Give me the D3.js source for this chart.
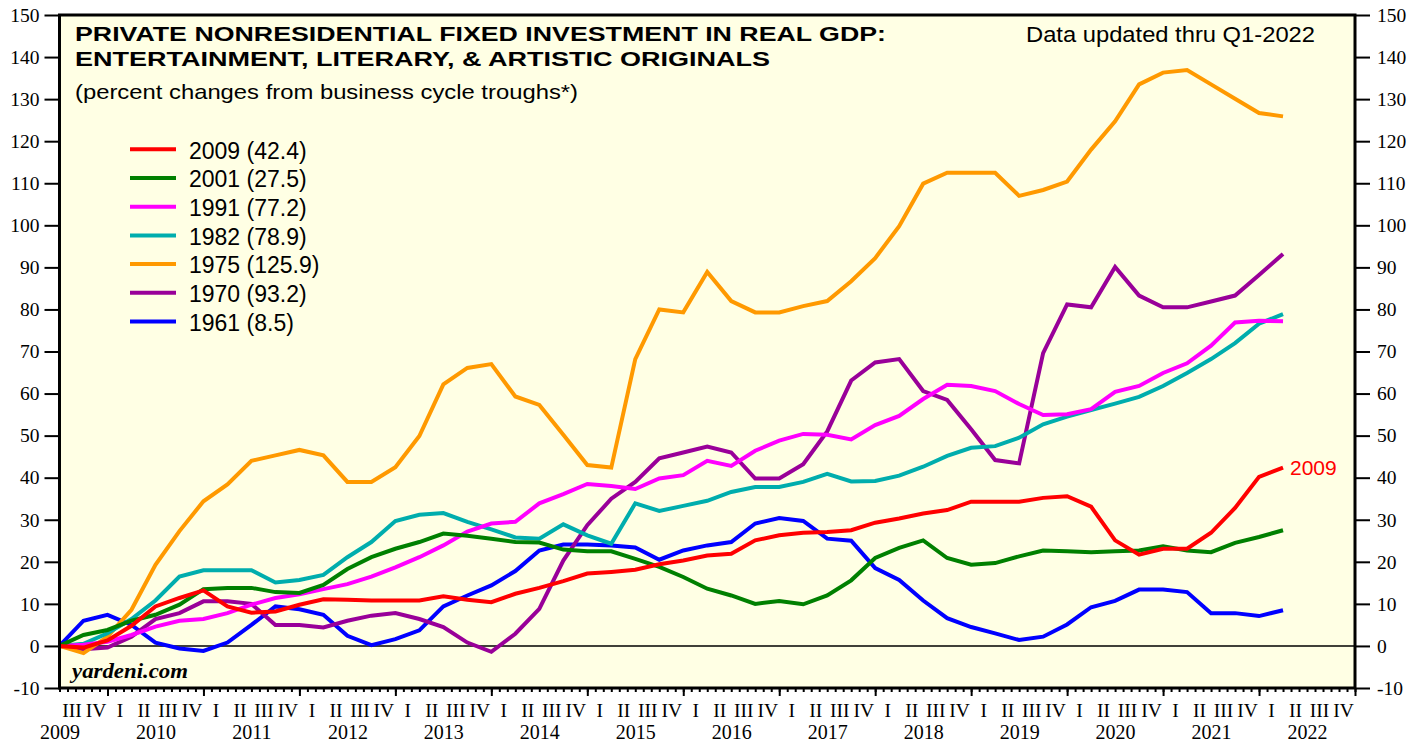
<!DOCTYPE html>
<html><head><meta charset="utf-8">
<script src="https://cdn.jsdelivr.net/npm/d3@7"></script>
<style>body{margin:0;background:#fff}svg{display:block}</style>
</head><body>
<svg id="c" width="1426" height="744"></svg>
<script>
// ---------- DATA ----------
const cycles = ["2009","2001","1991","1982","1975","1970","1961"];
// quarters since trough: 0..51 (2009Q2 .. 2022Q1 on the 2009 calendar)
const s2009 = [0,-0.4,1.3,4.8,9.4,11.4,13.2,9.4,7.9,8.2,9.8,11.1,11.0,10.8,10.8,10.8,11.8,11.0,10.4,12.4,13.8,15.4,17.2,17.6,18.1,19.4,20.3,21.5,21.9,25.1,26.3,26.9,27.1,27.5,29.3,30.3,31.5,32.3,34.3,34.3,34.3,35.2,35.6,33.1,25.1,21.7,23.1,23.1,26.9,32.8,40.2,42.4];
const s2001 = [0,2.6,3.8,6.0,7.4,9.8,13.5,13.8,13.8,12.8,12.6,14.5,18.3,21.1,23.1,24.7,26.7,26.2,25.5,24.7,24.6,22.9,22.5,22.5,20.7,18.8,16.4,13.6,12.0,10.0,10.7,9.9,12.0,15.6,20.9,23.3,25.1,20.9,19.3,19.7,21.3,22.7,22.5,22.3,22.5,22.7,23.7,22.7,22.3,24.5,25.9,27.5];
const s1991 = [0,0.3,1.0,2.6,4.6,6.0,6.4,7.8,9.8,11.4,12.3,13.5,14.7,16.5,18.7,21.1,23.9,27.2,29.1,29.5,33.9,36.1,38.5,38.0,37.3,39.8,40.6,44.0,42.8,46.4,48.8,50.4,50.2,49.1,52.5,54.7,58.7,62.1,61.8,60.6,57.5,54.9,55.1,56.3,60.4,61.8,64.9,67.2,71.4,76.9,77.3,77.2];
const s1982 = [0,0.5,3.0,6.4,10.8,16.5,18.0,18.0,18.0,15.1,15.7,16.9,21.1,24.7,29.7,31.2,31.6,29.5,27.7,25.8,25.5,28.9,26.3,24.3,33.9,32.1,33.3,34.5,36.6,37.8,37.8,39.0,40.9,39.1,39.2,40.5,42.6,45.2,47.1,47.5,49.5,52.7,54.5,56.1,57.6,59.2,61.8,64.9,68.2,72.0,76.6,78.9];
const s1975 = [0,-1.7,2.2,8.6,19.3,27.3,34.4,38.4,44.0,45.3,46.6,45.3,39.0,39.0,42.5,49.9,62.2,66.1,67.0,59.3,57.3,50.2,43.0,42.4,68.2,80.0,79.3,88.9,82.0,79.3,79.3,80.8,82.0,86.7,92.2,99.8,109.9,112.5,112.5,112.5,107.0,108.4,110.4,118.0,124.7,133.5,136.3,136.9,133.5,130.1,126.7,125.9];
const s1970 = [0,-0.8,-0.4,2.2,6.4,7.8,10.6,10.6,10.0,5.0,5.0,4.4,6.0,7.2,7.8,6.4,4.5,0.8,-1.4,2.9,8.8,20.3,28.7,35.0,39.0,44.6,46.0,47.4,46.0,39.8,39.8,43.2,51.0,63.1,67.4,68.2,60.6,58.5,51.5,44.2,43.4,69.6,81.2,80.5,90.1,83.3,80.5,80.5,81.9,83.3,88.2,93.2];
const s1961 = [0,6.0,7.4,5.0,0.8,-0.6,-1.2,0.8,5.0,9.4,8.7,7.4,2.4,0.2,1.6,3.7,9.4,12.0,14.4,17.8,22.7,24.1,24.1,23.9,23.4,20.5,22.7,23.9,24.7,29.1,30.4,29.7,25.5,25.0,18.5,15.7,10.8,6.6,4.5,3.0,1.4,2.2,5.1,9.2,10.7,13.4,13.4,12.8,7.8,7.8,7.1,8.5];
const seriesValues = [s2009,s2001,s1991,s1982,s1975,s1970,s1961];
const yTicks = [-10,0,10,20,30,40,50,60,70,80,90,100,110,120,130,140,150];
const quarterLabels = ["I","II","III","IV"];
const yearLabels = [2009,2010,2011,2012,2013,2014,2015,2016,2017,2018,2019,2020,2021,2022];
const firstQuarterEnd = 2009.5;   // end of 2009 Q2 (trough of latest cycle)
const axisStart = 2009.5, axisEnd = 2023;

// ---------- STYLES ----------
const colors = ["#ff0000","#008000","#ff00ff","#00adad","#ff9900","#990099","#0000ff"];
const SANS = "'Liberation Sans', Arial, Helvetica, sans-serif";
const SERIF = "'Liberation Serif', 'Times New Roman', serif";

const svg = d3.select("#c");
const L = 59.5, R = 1355, T = 15, B = 688;
const x = d3.scaleLinear().domain([axisStart, axisEnd]).range([L, R]);
const y = d3.scaleLinear().domain([-10, 150]).range([B, T]);

svg.append("rect").attr("x", L).attr("y", T).attr("width", R - L).attr("height", B - T).attr("fill", "#ffffe4");

// zero line
svg.append("line").attr("x1", L).attr("x2", R).attr("y1", y(0)).attr("y2", y(0))
  .attr("stroke", "#000").attr("stroke-width", 1.5);

// series lines (draw 1961 first, 2009 last)
const line = d3.line().x((d, i) => x(firstQuarterEnd + i * 0.25)).y(d => y(d));
for (let k = seriesValues.length - 1; k >= 0; k--) {
  svg.append("path").datum(seriesValues[k]).attr("d", line)
    .attr("fill", "none").attr("stroke", colors[k]).attr("stroke-width", 4)
    .attr("stroke-linejoin", "miter");
}

// frame
svg.append("rect").attr("x", L).attr("y", T).attr("width", R - L).attr("height", B - T)
  .attr("fill", "none").attr("stroke", "#000").attr("stroke-width", 3);

function styleAxis(g, fs) {
  g.select(".domain").remove();
  g.selectAll(".tick line").attr("stroke", "#000").attr("stroke-width", 2);
  g.selectAll("text").attr("font-family", SERIF).attr("font-size", fs).attr("fill", "#000");
}

// left / right axes (plain hyphen for negatives)
const fmtY = d => String(d);
const gl = svg.append("g").attr("transform", `translate(${L},0)`)
  .call(d3.axisLeft(y).tickValues(yTicks).tickSize(15).tickPadding(5).tickFormat(fmtY));
styleAxis(gl, "19.5px");
const gr = svg.append("g").attr("transform", `translate(${R},0)`)
  .call(d3.axisRight(y).tickValues(yTicks).tickSize(15).tickPadding(7).tickFormat(fmtY));
styleAxis(gr, "19.5px");

// bottom ticks: monthly minor, yearly major
const months = d3.range(Math.round((axisEnd - axisStart) * 12) + 1).map(k => axisStart + k / 12);
const gm = svg.append("g").attr("transform", `translate(0,${B})`)
  .call(d3.axisBottom(x).tickValues(months).tickSize(4).tickFormat(""));
styleAxis(gm, "0px");
const yearBounds = yearLabels.slice(1).concat([axisEnd]);
const gy = svg.append("g").attr("transform", `translate(0,${B})`)
  .call(d3.axisBottom(x).tickValues(yearBounds).tickSize(8).tickFormat(""));
styleAxis(gy, "0px");

// quarter labels
const qMids = d3.range(Math.round((axisEnd - axisStart) * 4)).map(k => axisStart + 0.125 + k * 0.25);
const gq = svg.append("g").attr("transform", `translate(0,${B})`)
  .call(d3.axisBottom(x).tickValues(qMids).tickSize(0)
    .tickFormat(d => quarterLabels[Math.floor(((d - Math.floor(d)) * 4) + 1e-6)]));
styleAxis(gq, "19.5px");
gq.selectAll("text").attr("dy", null).attr("y", 28.5);

// year labels (first year clamped to the axis start)
const yearPos = yearLabels.map(v => Math.max(v + 0.5, axisStart));
const gY = svg.append("g").attr("transform", `translate(0,${B})`)
  .call(d3.axisBottom(x).tickValues(yearPos).tickSize(0).tickFormat((d, i) => String(yearLabels[i])));
styleAxis(gY, "20px");
gY.selectAll("text").attr("dy", null).attr("y", 51);

// titles
function txt(xp, yp, s, fs, opt = {}) {
  const t = svg.append("text").attr("x", xp).attr("y", yp).text(s)
    .attr("font-family", opt.family || SANS).attr("font-size", fs)
    .attr("font-weight", opt.weight || "normal").attr("font-style", opt.style || "normal")
    .attr("fill", opt.fill || "#000");
  if (opt.w) t.attr("textLength", opt.w).attr("lengthAdjust", "spacingAndGlyphs");
  return t;
}
txt(75, 41, "PRIVATE NONRESIDENTIAL FIXED INVESTMENT IN REAL GDP:", "21px", {weight: "bold", w: 811});
txt(75, 66, "ENTERTAINMENT, LITERARY, & ARTISTIC ORIGINALS", "21px", {weight: "bold", w: 695});
txt(75, 98.5, "(percent changes from business cycle troughs*)", "21px", {w: 503});
txt(1026, 42, "Data updated thru Q1-2022", "21.5px", {w: 289});
txt(72, 678, "yardeni.com", "21px", {family: SERIF, weight: "bold", style: "italic", w: 116});

// legend
cycles.forEach((c, i) => {
  const yy = 149.3 + i * 28.7;
  svg.append("line").attr("x1", 130).attr("x2", 176).attr("y1", yy).attr("y2", yy)
    .attr("stroke", colors[i]).attr("stroke-width", 4);
  const last = seriesValues[i][seriesValues[i].length - 1];
  txt(189, yy + 9.3, `${c} (${last.toFixed(1)})`, "23px");
});

// end label for 2009
const lastIdx = s2009.length - 1;
txt(x(firstQuarterEnd + lastIdx * 0.25) + 7, y(s2009[lastIdx]) + 7.5, "2009", "21px", {fill: "#ff0000"});
</script>
</body></html>
